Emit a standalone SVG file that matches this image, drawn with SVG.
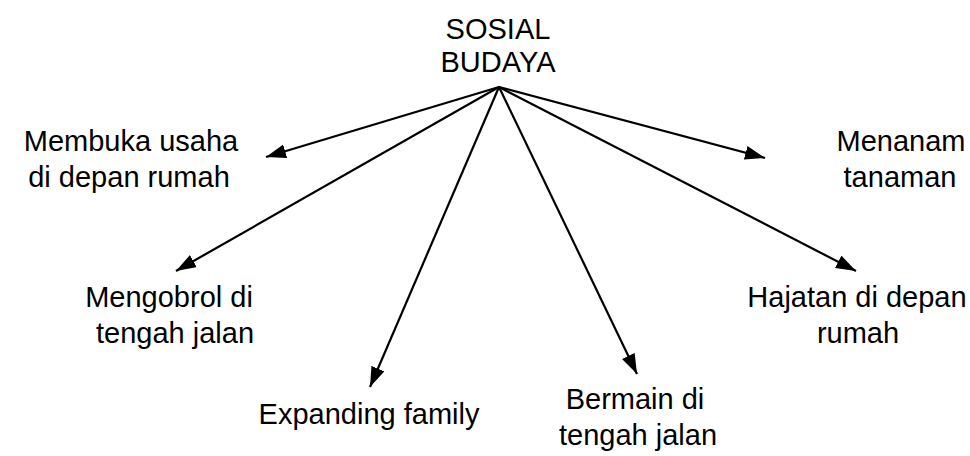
<svg xmlns="http://www.w3.org/2000/svg" width="970" height="456" viewBox="0 0 970 456">
<style>
text{font-family:"Liberation Sans",Arial,sans-serif;font-size:29px;fill:#000;text-anchor:middle}
.c line{stroke:#000;stroke-width:2.2}
</style>
<defs>
<marker id="a" viewBox="0 0 20 14" refX="20" refY="7" markerWidth="20" markerHeight="14" markerUnits="userSpaceOnUse" orient="auto"><path d="M0,0L20,7L0,14z" fill="#000"/></marker>
</defs>
<rect width="970" height="456" fill="#fff"/>
<g id="root"><text x="498" y="39">SOSIAL</text><text x="498" y="72">BUDAYA</text></g>
<g id="n1"><text x="131" y="151">Membuka usaha</text><text x="129" y="187">di depan rumah</text></g>
<g id="n2"><text x="901" y="151">Menanam</text><text x="900" y="187">tanaman</text></g>
<g id="n3"><text x="169" y="307">Mengobrol di</text><text x="175" y="343">tengah jalan</text></g>
<g id="n4"><text x="857" y="307">Hajatan di depan</text><text x="858" y="343">rumah</text></g>
<g id="n5"><text x="369" y="424">Expanding family</text></g>
<g id="n6"><text x="635" y="409">Bermain di</text><text x="638" y="445">tengah jalan</text></g>
<g class="c" id="connectors">
<line x1="499" y1="87" x2="266" y2="157" marker-end="url(#a)"/>
<line x1="499" y1="87" x2="765" y2="158" marker-end="url(#a)"/>
<line x1="499" y1="87" x2="176" y2="271" marker-end="url(#a)"/>
<line x1="499" y1="87" x2="856" y2="271" marker-end="url(#a)"/>
<line x1="499" y1="87" x2="370" y2="387" marker-end="url(#a)"/>
<line x1="499" y1="87" x2="637" y2="374" marker-end="url(#a)"/>
</g>
</svg>
